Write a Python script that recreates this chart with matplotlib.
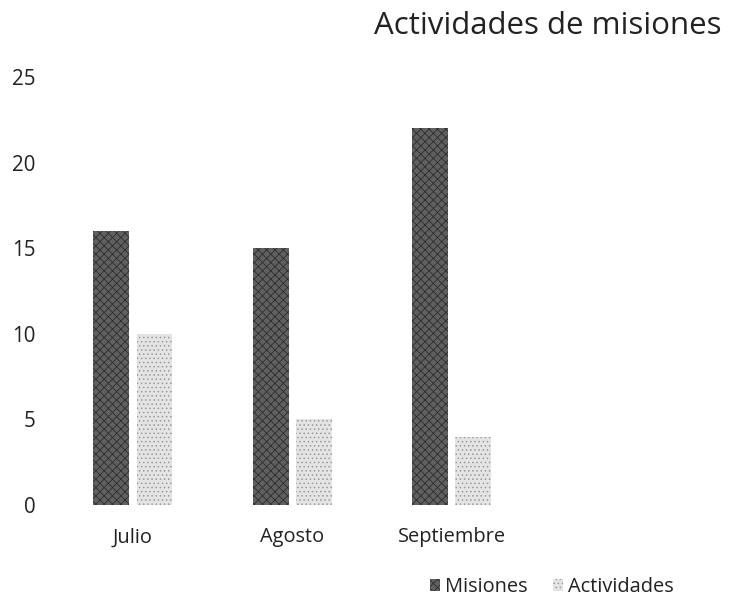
import numpy as np
import matplotlib
matplotlib.use('Agg')
import matplotlib.pyplot as plt

plt.rcParams['font.family'] = ['Open Sans', 'DejaVu Sans']
plt.rcParams['hatch.linewidth'] = 0.6

# Misiones / Actividades por mes
months = ['Julio', 'Agosto', 'Septiembre']
misiones = [16, 15, 22]
actividades = [10, 5, 4]
yticks = [0, 5, 10, 15, 20, 25]

fig = plt.figure(figsize=(7.29, 5.98), dpi=100)
ax = fig.add_axes([0.073, 0.1555, 0.656, 0.7157])

x = np.arange(len(months))
w = 0.225
plt.rcParams['hatch.color'] = '#2e2e2e'
ax.bar(x - 0.135, misiones, w, color='#606060', hatch='xxxx',
       edgecolor='#2e2e2e', linewidth=0, label='Misiones')
ax.bar(x + 0.135, actividades, w, color='#e4e4e4', hatch='....',
       edgecolor='#9a9a9a', linewidth=0, label='Actividades')

ax.set_xlim(-0.5, 2.5)
ax.set_ylim(0, 25)
ax.set_xticks(x)
ax.set_xticklabels(months, fontsize=14.4, color='#222222')
ax.set_yticks(yticks)
ax.set_yticklabels([str(v) for v in yticks], fontsize=14.8, color='#222222')
ax.tick_params(axis='x', length=0, pad=16)
ax.tick_params(axis='y', length=0, pad=13)
for s in ax.spines.values():
    s.set_visible(False)

fig.text(0.752, 0.957, 'Actividades de misiones', fontsize=22.5,
         ha='center', va='center', color='#222222')
fig.legend(loc='center', bbox_to_anchor=(0.757, 0.018), ncol=2, frameon=False,
           fontsize=14.4, handlelength=0.5, handleheight=0.5,
           handletextpad=0.25, columnspacing=1.3, labelcolor='#222222',
           borderaxespad=0, borderpad=0)

fig.savefig('out.png', dpi=100)
plt.close()
